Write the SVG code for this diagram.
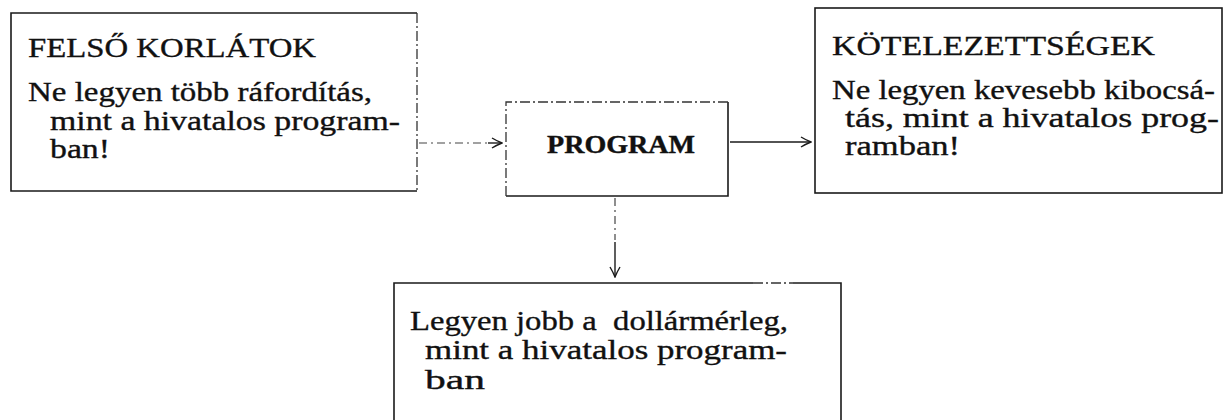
<svg xmlns="http://www.w3.org/2000/svg" width="1225" height="420" viewBox="0 0 1225 420">
<style>
.b{fill:none;stroke:#1a1a1a;stroke-width:1.6}
.bd{fill:none;stroke:#333;stroke-width:1.3;stroke-dasharray:10 3 2 3}
.t{font-family:"Liberation Serif","DejaVu Serif",serif;font-size:27px;fill:#111;stroke:#111;stroke-width:0.35}
.tb{font-family:"Liberation Serif","DejaVu Serif",serif;font-size:26px;font-weight:bold;fill:#111;stroke:#111;stroke-width:0.4}
.c{fill:none;stroke:#1a1a1a;stroke-width:1.4}
.cd{fill:none;stroke:#444;stroke-width:1.2;stroke-dasharray:8 4 2 4}
</style>
<defs>
<marker id="ah" viewBox="0 0 12 12" refX="11" refY="6" markerWidth="12" markerHeight="12" markerUnits="userSpaceOnUse" orient="auto">
<path d="M1,1 Q6,4 11,6 Q6,8 1,11" fill="none" stroke="#1a1a1a" stroke-width="1.4"/>
</marker>
</defs>
<g id="felso">
<path class="b" d="M417,191 L11,191 L11,13 L417,13"/>
<path class="bd" d="M417,13 L417,191"/>
<text class="t" x="28" y="57" textLength="288" lengthAdjust="spacingAndGlyphs">FELSŐ KORLÁTOK</text>
<text class="t" x="28" y="101" textLength="344" lengthAdjust="spacingAndGlyphs">Ne legyen több ráfordítás,</text>
<text class="t" x="50" y="130" textLength="350" lengthAdjust="spacingAndGlyphs">mint a hivatalos program-</text>
<text class="t" x="50" y="158" textLength="60" lengthAdjust="spacingAndGlyphs">ban!</text>
</g>
<g id="program">
<path class="b" d="M506,196 L728,196 L728,102"/>
<path class="bd" d="M728,102 L506,102 L506,196"/>
<text class="tb" x="547" y="153" textLength="148" lengthAdjust="spacingAndGlyphs">PROGRAM</text>
</g>
<g id="kotelezettsegek">
<rect class="b" x="815" y="8" width="407" height="185"/>
<text class="t" x="832" y="55" textLength="323" lengthAdjust="spacingAndGlyphs">KÖTELEZETTSÉGEK</text>
<text class="t" x="832" y="99" textLength="383" lengthAdjust="spacingAndGlyphs">Ne legyen kevesebb kibocsá-</text>
<text class="t" x="845" y="127" textLength="374" lengthAdjust="spacingAndGlyphs">tás, mint a hivatalos prog-</text>
<text class="t" x="845" y="155" textLength="115" lengthAdjust="spacingAndGlyphs">ramban!</text>
</g>
<g id="dollar">
<path class="b" d="M394,425 L394,283 L753,283 M793,283 L841,283 L841,425"/>
<path class="bd" d="M753,283 L793,283"/>
<text class="t" x="410" y="330" xml:space="preserve" textLength="378" lengthAdjust="spacingAndGlyphs">Legyen jobb a  dollármérleg,</text>
<text class="t" x="425" y="359" textLength="362" lengthAdjust="spacingAndGlyphs">mint a hivatalos program-</text>
<text class="t" x="425" y="389" textLength="60" lengthAdjust="spacingAndGlyphs">ban</text>
</g>
<g id="connectors">
<path class="cd" d="M419,143 L490,143"/>
<path class="c" d="M488,143 L502,143" marker-end="url(#ah)"/>
<path class="c" d="M730,142 L811,142" marker-end="url(#ah)"/>
<path class="cd" d="M615,198 L615,240"/>
<path class="c" d="M615,242 L615,277" marker-end="url(#ah)"/>
</g>
</svg>
